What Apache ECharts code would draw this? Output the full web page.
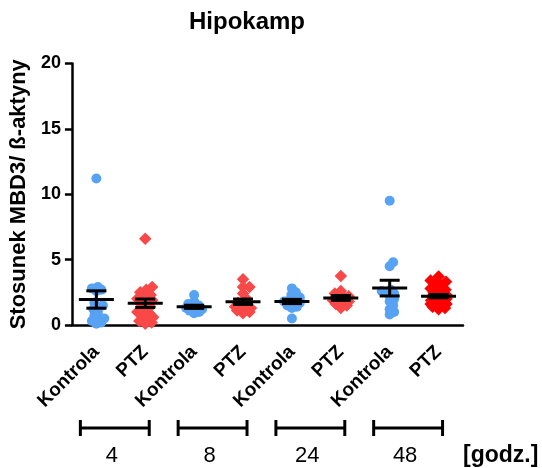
<!DOCTYPE html>
<html>
<head>
<meta charset="utf-8">
<script src="https://cdn.jsdelivr.net/npm/echarts@6/dist/echarts.min.js"></script>
<style>
  html, body { margin: 0; padding: 0; background: #fff; }
  #chart { width: 542px; height: 468px; }
</style>
</head>
<body>
<div id="chart"></div>
<script>
// Group labels along the x axis and the time points (hours) under them
const categories = ['Kontrola', 'PTZ', 'Kontrola', 'PTZ', 'Kontrola', 'PTZ', 'Kontrola', 'PTZ'];
const timeLabels = ['4', '8', '24', '48'];

// MBD3 / beta-actin ratio, individual samples per group
const kontrola4 = [11.2, 2.9, 2.8, 2.7, 2.6, 1.7, 1.5, 1.2, 1.4, 1.0, 0.7, 0.4, 0.3, 0.2, 0.1, 0.5];
const ptz4 = [6.6, 2.9, 2.7, 2.5, 2.3, 2.2, 2.0, 1.9, 1.7, 1.6, 1.4, 1.2, 1.0, 0.9, 0.7, 0.5, 0.3, 0.2, 0.1, 0.6];
const kontrola8 = [2.3, 1.8, 1.6, 1.5, 1.4, 1.3, 1.2, 1.1, 1.0, 0.9, 1.2];
const ptz8 = [3.5, 2.9, 2.9, 2.4, 2.0, 1.7, 1.5, 1.4, 1.3, 1.2, 1.1, 1.0, 0.9, 1.3, 1.6];
const kontrola24 = [2.8, 2.5, 2.3, 2.1, 2.0, 1.9, 1.8, 1.7, 1.6, 1.4, 1.5, 1.3, 0.5];
const ptz24 = [3.75, 2.6, 2.4, 2.2, 2.1, 2.0, 1.9, 1.8, 1.7, 1.5, 1.3, 1.6];
const kontrola48 = [9.5, 4.8, 4.5, 2.7, 2.6, 2.5, 2.4, 2.2, 2.0, 1.8, 1.5, 1.2, 1.0, 0.8];
const ptz48 = [3.7, 3.4, 3.3, 3.1, 3.0, 2.8, 2.7, 2.6, 2.5, 2.4, 2.3, 2.2, 2.1, 2.0, 2.0, 1.9,
               1.8, 1.7, 1.6, 1.5, 1.4, 1.3, 1.2, 1.6, 1.8, 2.1, 2.3, 1.5];

const groups = [kontrola4, ptz4, kontrola8, ptz8, kontrola24, ptz24, kontrola48, ptz48];

const BLUE = '#58a2f4';
const RED = '#f84848';
const RED_STRONG = '#ff0000';
const groupColors = [BLUE, RED, BLUE, RED, BLUE, RED, BLUE, RED_STRONG];
const groupSymbols = ['circle', 'diamond', 'circle', 'diamond', 'circle', 'diamond', 'circle', 'diamond'];
const groupSizes = [10, 12.5, 10, 12.5, 10, 12.5, 10, 12.5];

const FONT = 'Liberation Sans, Arial, sans-serif';
const W = 542, H = 468;
const grid = { left: 69.5, right: 79, top: 63.5, bottom: 143 };
const yMin = 0, yMax = 20;
const pxPerCat = (W - grid.left - grid.right) / categories.length;
const pxPerUnit = (H - grid.top - grid.bottom) / (yMax - yMin);

// Beeswarm: spread points sideways, within a limited half-width,
// so they do not pile on top of each other
function swarmOffsets(values, sep, maxHalf) {
  const order = values.map((v, i) => i).sort((a, b) => values[a] - values[b]);
  const placed = [];
  const offs = new Array(values.length).fill(0);
  for (const i of order) {
    const y = values[i] * pxPerUnit;
    let chosen = null, bestDx = 0, bestGap = -1;
    for (let k = 0; ; k++) {
      const dx = (k % 2 ? 1 : -1) * Math.ceil(k / 2) * 0.5;
      if (Math.abs(dx) > maxHalf) break;
      let gap = Infinity;
      for (const p of placed) gap = Math.min(gap, Math.hypot(p.x - dx, p.y - y));
      if (gap >= sep) { chosen = dx; break; }
      if (gap > bestGap + 0.01) { bestGap = gap; bestDx = dx; }
    }
    if (chosen === null) chosen = bestDx;
    offs[i] = chosen;
    placed.push({ x: chosen, y });
  }
  return offs;
}

function mean(a) { return a.reduce((s, v) => s + v, 0) / a.length; }
function sem(a) {
  const m = mean(a);
  const sd = Math.sqrt(a.reduce((s, v) => s + (v - m) ** 2, 0) / (a.length - 1));
  return sd / Math.sqrt(a.length);
}

const scatterSeries = groups.map((vals, gi) => {
  const offs = swarmOffsets(vals, groupSizes[gi] * 0.5, 8);
  return {
    type: 'scatter',
    xAxisIndex: 1,
    yAxisIndex: 0,
    symbol: groupSymbols[gi],
    symbolSize: groupSizes[gi],
    itemStyle: { color: groupColors[gi], opacity: 1 },
    z: 2,
    silent: true,
    data: vals.map((v, j) => [gi + offs[j] / pxPerCat, v])
  };
});

const summaryData = groups.map((vals, gi) => {
  const m = mean(vals), e = sem(vals);
  return [gi, m, m - e, m + e];
});

const errorSeries = {
  type: 'custom',
  xAxisIndex: 0,
  yAxisIndex: 0,
  z: 5,
  silent: true,
  data: summaryData,
  renderItem(params, api) {
    const c = api.coord([api.value(0), api.value(1)]);
    const lo = api.coord([api.value(0), api.value(2)]);
    const hi = api.coord([api.value(0), api.value(3)]);
    const st = { stroke: '#000', lineWidth: 3 };
    return {
      type: 'group',
      children: [
        { type: 'line', shape: { x1: c[0], y1: hi[1], x2: c[0], y2: lo[1] }, style: st },
        { type: 'line', shape: { x1: c[0] - 10, y1: hi[1], x2: c[0] + 10, y2: hi[1] }, style: st },
        { type: 'line', shape: { x1: c[0] - 10, y1: lo[1], x2: c[0] + 10, y2: lo[1] }, style: st },
        { type: 'line', shape: { x1: c[0] - 17.5, y1: c[1], x2: c[0] + 17.5, y2: c[1] }, style: st }
      ]
    };
  }
};

const chart = echarts.init(document.getElementById('chart'), null, { renderer: 'canvas' });

chart.setOption({
  animation: false,
  backgroundColor: '#fff',
  title: {
    text: 'Hipokamp',
    left: 184,
    top: 5,
    textStyle: { fontFamily: FONT, fontSize: 24, fontWeight: 'bold', color: '#000' }
  },
  grid: grid,
  xAxis: [
    {
      type: 'category',
      data: categories,
      boundaryGap: true,
      axisLine: { lineStyle: { color: '#000', width: 2.5 } },
      axisTick: { alignWithLabel: true, length: 7, lineStyle: { color: '#000', width: 2.5 } },
      axisLabel: {
        rotate: 45,
        margin: 24,
        interval: 0,
        fontFamily: FONT,
        fontSize: 19,
        fontWeight: 'bold',
        color: '#000'
      },
      splitLine: { show: false }
    },
    {
      type: 'value',
      min: -0.5,
      max: categories.length - 0.5,
      show: false
    }
  ],
  yAxis: {
    type: 'value',
    min: yMin,
    max: yMax,
    interval: 5,
    name: 'Stosunek MBD3/ ß-aktyny',
    nameLocation: 'middle',
    nameRotate: 90,
    nameGap: 40,
    nameTextStyle: { fontFamily: FONT, fontSize: 22, fontWeight: 'bold', color: '#000' },
    axisLine: { show: true, onZero: false, lineStyle: { color: '#000', width: 2.5 } },
    axisTick: { show: true, length: 7, lineStyle: { color: '#000', width: 2.5 } },
    axisLabel: { margin: 11, fontFamily: FONT, fontSize: 18, fontWeight: 'bold', color: '#000' },
    splitLine: { show: false }
  },
  series: scatterSeries.concat([errorSeries])
});

// Time-point brackets under each Kontrola/PTZ pair
const graphics = [];
timeLabels.forEach((lab, k) => {
  const xk = chart.convertToPixel({ xAxisIndex: 0 }, 2 * k);
  const xp = chart.convertToPixel({ xAxisIndex: 0 }, 2 * k + 1);
  const x1 = xk - 16, x2 = xp + 4, y = 428;
  const st = { stroke: '#000', lineWidth: 3 };
  graphics.push({ type: 'line', shape: { x1, y1: y, x2, y2: y }, style: st });
  graphics.push({ type: 'line', shape: { x1, y1: y - 8, x2: x1, y2: y + 8 }, style: st });
  graphics.push({ type: 'line', shape: { x1: x2, y1: y - 8, x2, y2: y + 8 }, style: st });
  graphics.push({
    type: 'text',
    x: (x1 + x2) / 2 - 3,
    y: 456,
    style: {
      text: lab, fontFamily: FONT, fontSize: 22, fill: '#000',
      textAlign: 'center', textVerticalAlign: 'middle'
    }
  });
});
graphics.push({
  type: 'text',
  x: 463,
  y: 456,
  style: {
    text: '[godz.]', fontFamily: FONT, fontSize: 23, fontWeight: 'bold', fill: '#000',
    textAlign: 'left', textVerticalAlign: 'middle'
  }
});
chart.setOption({ graphic: graphics });
</script>
</body>
</html>
